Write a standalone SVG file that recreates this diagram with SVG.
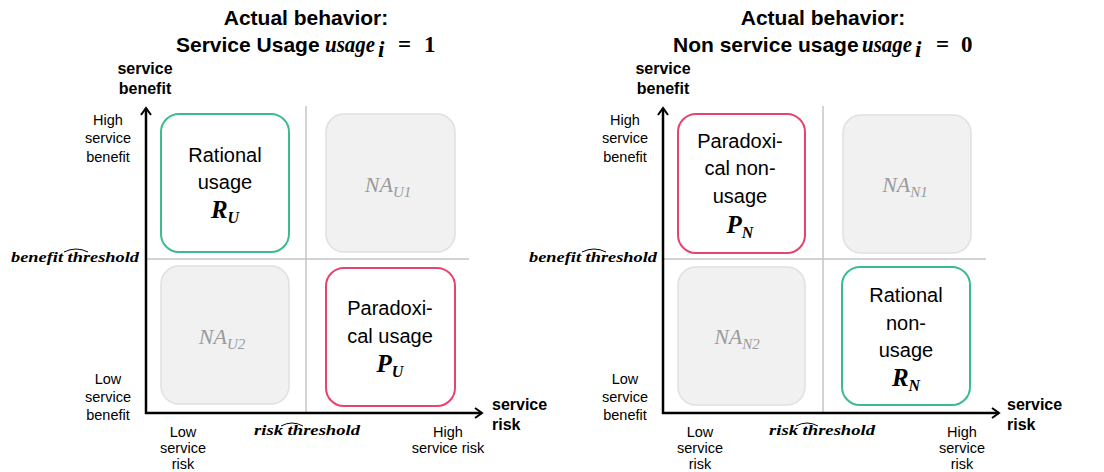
<svg xmlns="http://www.w3.org/2000/svg" width="1104" height="472" viewBox="0 0 1104 472">
<defs>
<marker id="arr" markerUnits="userSpaceOnUse" markerWidth="14" markerHeight="14" refX="10" refY="6" orient="auto">
<path d="M3,1 L10,6 L3,11" fill="none" stroke="#000" stroke-width="2"/>
</marker>
<style>
.title{font-family:"Liberation Sans",Arial,sans-serif;font-weight:bold;font-size:21px;fill:#000}
.mt{font-family:"Liberation Serif","DejaVu Serif",serif;font-weight:bold;font-style:italic;font-size:23px;fill:#000}
.mn{font-family:"Liberation Serif","DejaVu Serif",serif;font-weight:bold;font-size:23px;fill:#000}
.axl{font-family:"Liberation Sans",Arial,sans-serif;font-weight:bold;font-size:16px;fill:#000}
.sm{font-family:"Liberation Sans",Arial,sans-serif;font-size:14.5px;fill:#000;text-anchor:middle}
.thr{font-family:"Liberation Serif","DejaVu Serif",serif;font-weight:bold;font-style:italic;font-size:14px;fill:#000}
.box{font-family:"Liberation Sans",Arial,sans-serif;font-size:20px;fill:#000;text-anchor:middle}
.sym{font-family:"Liberation Serif","DejaVu Serif",serif;font-weight:bold;font-style:italic;font-size:25px;fill:#000;text-anchor:middle}
.na{font-family:"Liberation Serif","DejaVu Serif",serif;font-style:italic;font-size:22px;fill:#9a9a9a;text-anchor:middle}
.axis{stroke:#000;stroke-width:2.5;fill:none}
.grid{stroke:#c4c4c4;stroke-width:1.5;fill:none}
.hat{stroke:#000;stroke-width:1;fill:none}
.g{fill:#fff;stroke:#3dbb8a;stroke-width:2}
.r{fill:#fff;stroke:#e8436c;stroke-width:2}
.n{fill:#f1f1f1;stroke:#e0e0e0;stroke-width:1.5}
</style>
</defs>

<!-- LEFT PANEL -->
<g id="left-title">
<text class="title" x="306" y="25" text-anchor="middle">Actual behavior:</text>
<text class="title" x="176" y="52">Service Usage</text>
<text class="mt" x="325" y="52" textLength="50" lengthAdjust="spacingAndGlyphs">usage</text>
<text class="mt" x="378" y="57" font-size="14">i</text>
<text class="mn" x="398" y="52">=</text>
<text class="mn" x="424" y="52">1</text>
</g>

<g id="left-connectors">
<line class="grid" x1="306" y1="106" x2="306" y2="413"/>
<line class="grid" x1="146" y1="259" x2="469" y2="259"/>
<line class="axis" x1="146" y1="414" x2="146" y2="108" marker-end="url(#arr)"/>
<line class="axis" x1="145" y1="413" x2="482" y2="413" marker-end="url(#arr)"/>
</g>

<g id="left-labels">
<text class="axl" x="145" y="74" text-anchor="middle">service</text>
<text class="axl" x="145" y="94" text-anchor="middle">benefit</text>
<text class="axl" x="492" y="410">service</text>
<text class="axl" x="492" y="430">risk</text>
<text class="sm" x="108" y="125">High</text>
<text class="sm" x="108" y="143">service</text>
<text class="sm" x="108" y="162">benefit</text>
<text class="sm" x="108" y="384">Low</text>
<text class="sm" x="108" y="402">service</text>
<text class="sm" x="108" y="420">benefit</text>
<text class="sm" x="183" y="437">Low</text>
<text class="sm" x="183" y="453">service</text>
<text class="sm" x="183" y="469">risk</text>
<text class="sm" x="448" y="437">High</text>
<text class="sm" x="448" y="453">service risk</text>
<text class="thr" x="139" y="262" text-anchor="end" textLength="128" lengthAdjust="spacingAndGlyphs">benefit threshold</text>
<path class="hat" d="M64,252 Q76,246 88,252"/>
<text class="thr" x="307" y="435" text-anchor="middle" textLength="106" lengthAdjust="spacingAndGlyphs">risk threshold</text>
<path class="hat" d="M281,426 Q292,420 303,426"/>
</g>

<g id="RU">
<rect class="g" x="161" y="114" width="128" height="138" rx="18"/>
<text class="box" x="225" y="162">Rational</text>
<text class="box" x="225" y="189">usage</text>
<text class="sym" x="225" y="218">R<tspan font-size="16" dy="5">U</tspan></text>
</g>
<g id="NAU1">
<rect class="n" x="326" y="114" width="129" height="138" rx="18"/>
<text class="na" x="388" y="192">NA<tspan font-size="15" dy="5">U1</tspan></text>
</g>
<g id="NAU2">
<rect class="n" x="161" y="266" width="128" height="138" rx="18"/>
<text class="na" x="222" y="344">NA<tspan font-size="15" dy="5">U2</tspan></text>
</g>
<g id="PU">
<rect class="r" x="326" y="268" width="129" height="138" rx="18"/>
<text class="box" x="390" y="315">Paradoxi-</text>
<text class="box" x="390" y="343">cal usage</text>
<text class="sym" x="390" y="372">P<tspan font-size="16" dy="5">U</tspan></text>
</g>

<!-- RIGHT PANEL -->
<g id="right-title">
<text class="title" x="823" y="25" text-anchor="middle">Actual behavior:</text>
<text class="title" x="673" y="52">Non service usage</text>
<text class="mt" x="862" y="52" textLength="50" lengthAdjust="spacingAndGlyphs">usage</text>
<text class="mt" x="915" y="57" font-size="14">i</text>
<text class="mn" x="936" y="52">=</text>
<text class="mn" x="961" y="52">0</text>
</g>

<g id="right-connectors">
<line class="grid" x1="823" y1="106" x2="823" y2="413"/>
<line class="grid" x1="663" y1="259" x2="986" y2="259"/>
<line class="axis" x1="663" y1="414" x2="663" y2="108" marker-end="url(#arr)"/>
<line class="axis" x1="662" y1="413" x2="999" y2="413" marker-end="url(#arr)"/>
</g>

<g id="right-labels">
<text class="axl" x="663" y="74" text-anchor="middle">service</text>
<text class="axl" x="663" y="94" text-anchor="middle">benefit</text>
<text class="axl" x="1007" y="410">service</text>
<text class="axl" x="1007" y="430">risk</text>
<text class="sm" x="625" y="125">High</text>
<text class="sm" x="625" y="143">service</text>
<text class="sm" x="625" y="162">benefit</text>
<text class="sm" x="625" y="384">Low</text>
<text class="sm" x="625" y="402">service</text>
<text class="sm" x="625" y="420">benefit</text>
<text class="sm" x="700" y="437">Low</text>
<text class="sm" x="700" y="453">service</text>
<text class="sm" x="700" y="469">risk</text>
<text class="sm" x="962" y="437">High</text>
<text class="sm" x="962" y="453">service</text>
<text class="sm" x="962" y="469">risk</text>
<text class="thr" x="657" y="262" text-anchor="end" textLength="128" lengthAdjust="spacingAndGlyphs">benefit threshold</text>
<path class="hat" d="M582,252 Q594,246 606,252"/>
<text class="thr" x="822" y="435" text-anchor="middle" textLength="106" lengthAdjust="spacingAndGlyphs">risk threshold</text>
<path class="hat" d="M796,426 Q807,420 818,426"/>
</g>

<g id="PN">
<rect class="r" x="678" y="114" width="127" height="139" rx="18"/>
<text class="box" x="740" y="148">Paradoxi-</text>
<text class="box" x="740" y="175">cal non-</text>
<text class="box" x="740" y="203">usage</text>
<text class="sym" x="740" y="233">P<tspan font-size="16" dy="5">N</tspan></text>
</g>
<g id="NAN1">
<rect class="n" x="843" y="115" width="128" height="138" rx="18"/>
<text class="na" x="905" y="192">NA<tspan font-size="15" dy="5">N1</tspan></text>
</g>
<g id="NAN2">
<rect class="n" x="678" y="267" width="127" height="138" rx="18"/>
<text class="na" x="737" y="344">NA<tspan font-size="15" dy="5">N2</tspan></text>
</g>
<g id="RN">
<rect class="g" x="842" y="267" width="128" height="138" rx="18"/>
<text class="box" x="906" y="302">Rational</text>
<text class="box" x="906" y="330">non-</text>
<text class="box" x="906" y="357">usage</text>
<text class="sym" x="906" y="386">R<tspan font-size="16" dy="5">N</tspan></text>
</g>
</svg>
